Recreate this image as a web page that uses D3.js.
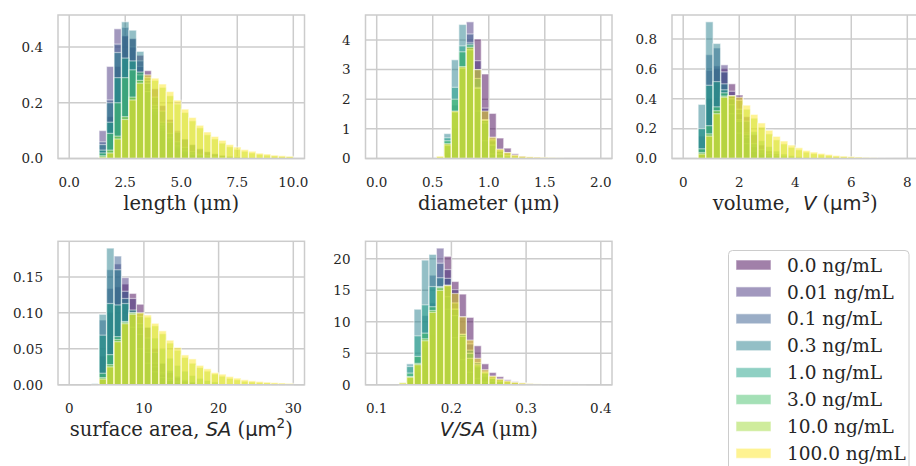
<!DOCTYPE html>
<html><head><meta charset="utf-8">
<script src="https://cdn.jsdelivr.net/npm/d3@7"></script>
<style>
html,body{margin:0;padding:0;background:#fff;overflow:hidden;}
svg{display:block;}
</style></head><body>
<svg id="fig" width="916" height="466"></svg>
<script>
// ATC concentrations, one histogram series per concentration
const concentrations = ["0.0", "0.01", "0.1", "0.3", "1.0", "3.0", "10.0", "100.0"];
const legendLabels = concentrations.map(c => c + " ng/mL");

// Shared bin specs: [first edge, last edge, number of bins]
const lengthBins = [0, 10, 30];
const diameterBins = [0, 2, 30];
const volumeBins = [0, 8, 30];
const areaBins = [0, 30, 30];
const ratioBins = [0.1, 0.4, 30];

// Cell length densities, per concentration
const lengthHist = [
  [0,0,0,0,0.03,0.15,0.33,0.44,0.43,0.37,0.315,0.25,0.19,0.14,0.10,0.07,0.05,0.035,0.024,0.016,0.011,0.007,0.005,0.003,0.002,0.001],
  [0,0,0,0,0.10,0.33,0.465,0.44,0.40,0.33,0.24,0.16,0.10,0.06,0.035,0.02,0.012,0.007,0.004,0.002,0.001],
  [0,0,0,0,0.06,0.21,0.41,0.47,0.43,0.35,0.25,0.17,0.11,0.07,0.04,0.025,0.015,0.01,0.006,0.003,0.002,0.001],
  [0,0,0,0,0.05,0.20,0.38,0.49,0.46,0.384,0.28,0.19,0.12,0.075,0.045,0.028,0.016,0.01,0.006,0.003,0.002,0.001],
  [0,0,0,0,0.03,0.13,0.29,0.36,0.35,0.30,0.24,0.18,0.13,0.09,0.06,0.04,0.025,0.015,0.01,0.006,0.004,0.002,0.001],
  [0,0,0,0,0.02,0.09,0.20,0.29,0.318,0.31,0.27,0.22,0.17,0.13,0.095,0.07,0.05,0.035,0.025,0.018,0.012,0.008,0.006,0.004,0.003,0.002,0.001],
  [0,0,0,0,0.01,0.03,0.08,0.15,0.22,0.28,0.29,0.28,0.255,0.225,0.195,0.165,0.135,0.11,0.085,0.07,0.055,0.042,0.033,0.026,0.02,0.015,0.012,0.009,0.007,0.006],
  [0,0,0,0,0.005,0.02,0.07,0.14,0.21,0.27,0.30,0.288,0.267,0.24,0.209,0.177,0.147,0.119,0.095,0.079,0.065,0.05,0.041,0.032,0.026,0.019,0.016,0.012,0.01,0.008]
];

// Cell diameter densities
const diameterHist = [
  [0,0,0,0,0,0,0,0,0,0.1,0.4,1.6,3.9,4.03,2.85,1.52,0.69,0.35,0.16,0.08,0.05,0.03,0.02],
  [0,0,0,0,0,0,0,0,0,0.2,1.0,3.0,4.61,3.3,1.7,0.7,0.25,0.1,0.05,0.02],
  [0,0,0,0,0,0,0,0,0,0.4,1.8,3.6,4.2,3.0,1.3,0.45,0.15,0.06,0.02],
  [0,0,0,0,0,0,0,0,0.02,0.84,3.33,4.52,3.9,1.6,0.6,0.15,0.04,0.01],
  [0,0,0,0,0,0,0,0,0.03,0.7,2.4,3.8,3.8,2.4,1.2,0.45,0.15,0.06,0.02],
  [0,0,0,0,0,0,0,0,0.04,0.6,2.0,3.6,3.85,2.7,1.3,0.6,0.25,0.1,0.04],
  [0,0,0,0,0,0,0,0,0.05,0.45,1.57,3.05,3.67,2.37,1.29,0.65,0.3,0.2,0.1,0.05,0.03],
  [0,0,0,0,0,0,0,0,0.08,0.5,1.6,3.1,3.75,3.0,1.6,0.72,0.32,0.2,0.12,0.08,0.06,0.05,0.04,0.03,0.02]
];

// Cell volume densities
const volumeHist = [
  [0,0,0.06,0.4,0.6,0.6,0.5,0.425,0.28,0.16,0.09,0.05,0.03,0.015,0.008],
  [0,0,0.15,0.59,0.62,0.627,0.45,0.3,0.17,0.09,0.05,0.025,0.012,0.006],
  [0,0,0.2,0.695,0.74,0.58,0.42,0.26,0.14,0.08,0.04,0.02,0.01],
  [0,0,0.362,0.915,0.77,0.5,0.3,0.17,0.1,0.05,0.03,0.015,0.008],
  [0,0,0.2,0.49,0.515,0.46,0.36,0.25,0.16,0.1,0.06,0.035,0.02,0.01],
  [0,0,0.065,0.22,0.346,0.44,0.4,0.33,0.25,0.18,0.12,0.08,0.05,0.03,0.02,0.012,0.008],
  [0,0,0.04,0.165,0.32,0.418,0.42,0.39,0.33,0.27,0.21,0.165,0.125,0.098,0.075,0.058,0.043,0.033,0.025,0.019,0.014,0.011,0.008,0.006,0.004,0.003],
  [0,0,0.03,0.15,0.3,0.41,0.42,0.41,0.357,0.295,0.238,0.189,0.148,0.117,0.09,0.072,0.054,0.043,0.034,0.027,0.02,0.016,0.013,0.01,0.007,0.005,0.003,0.002]
];

// Surface area densities
const areaHist = [
  [0,0,0,0,0.04,0.1,0.136,0.14,0.127,0.112,0.08,0.05,0.03,0.017,0.01,0.005,0.003],
  [0,0,0,0,0.07,0.134,0.168,0.149,0.12,0.08,0.05,0.03,0.017,0.009,0.005,0.002],
  [0,0,0,0.001,0.09,0.16,0.179,0.13,0.1,0.07,0.045,0.025,0.015,0.008,0.004],
  [0,0,0,0.002,0.098,0.19,0.16,0.12,0.08,0.05,0.03,0.018,0.01,0.006,0.003],
  [0,0,0,0,0.069,0.113,0.111,0.113,0.104,0.085,0.065,0.045,0.03,0.02,0.012,0.007,0.004],
  [0,0,0,0,0.016,0.042,0.067,0.088,0.1,0.095,0.08,0.065,0.05,0.037,0.027,0.019,0.013,0.009,0.006,0.004],
  [0,0,0,0.001,0.01,0.028,0.063,0.087,0.1,0.1,0.094,0.082,0.071,0.058,0.048,0.038,0.03,0.024,0.019,0.015,0.012,0.009,0.007,0.005,0.004,0.003,0.0025,0.002,0.0015,0.001],
  [0,0,0,0.001,0.008,0.025,0.06,0.085,0.098,0.1,0.097,0.0855,0.075,0.062,0.052,0.0415,0.036,0.027,0.0222,0.017,0.0148,0.0115,0.0093,0.007,0.0055,0.0046,0.0037,0.003,0.0025,0.002]
];

// Volume-to-surface-area ratio densities
const ratioHist = [
  [0,0,0,0,0.1,0.8,3,8,14,20.4,16.4,14.4,10.7,6.2,3.33,1.95,1.3,0.8,0.5,0.3,0.2,0.12,0.08],
  [0,0,0,0,0.5,2,6,13,21.7,18.3,15.1,10.8,6.5,3.5,1.5,0.6,0.3,0.1],
  [0,0,0,0,1,4.5,11,17.4,19.3,16.9,12,8,5,2.8,1.3,0.5,0.2],
  [0,0,0,0.2,3.33,12,19.8,20.7,17,12,7.5,4,2,1,0.4,0.15],
  [0,0,0,0.2,2.9,7.78,12.7,15.6,15.6,14,11,8,5.5,3.5,2,1,0.5,0.2],
  [0,0,0,0.2,1.86,4.5,8.2,12.4,15.5,15.8,12,8,5,3,1.8,1,0.6,0.3,0.15],
  [0,0,0,0.37,1.3,3.4,7.3,11.8,15.4,15.7,13,7.7,4.2,3.2,2,1.3,0.9,0.6,0.4,0.25,0.15,0.1],
  [0,0,0,0.3,1.2,3.2,7,11.5,15,15.8,14.5,10.8,7.1,4.2,2.4,1.4,0.9,0.6,0.4,0.3,0.2,0.15,0.1,0.08,0.06,0.05,0.04,0.03]
];

// Tick values
const lengthXTicks = [0, 2.5, 5, 7.5, 10], lengthYTicks = [0, 0.2, 0.4];
const diameterXTicks = [0, 0.5, 1, 1.5, 2], diameterYTicks = [0, 1, 2, 3, 4];
const volumeXTicks = [0, 2, 4, 6, 8], volumeYTicks = [0, 0.2, 0.4, 0.6, 0.8];
const areaXTicks = [0, 10, 20, 30], areaYTicks = [0, 0.05, 0.1, 0.15];
const ratioXTicks = [0.1, 0.2, 0.3, 0.4], ratioYTicks = [0, 5, 10, 15, 20];

const SERIF = "'DejaVu Serif', serif";
const SANS = "'DejaVu Sans', sans-serif";
const TEXT = "#262626", GRID = "#cccccc";
const colors = concentrations.map((c, i) => d3.interpolateViridis(i / (concentrations.length - 1)));

const svg = d3.select("#fig");
const AX_W = 246.5, AX_H = 143.5;
const colX = [58, 365.5, 672], rowY = [15, 241.3];

const panels = [
  {hist: lengthHist, bins: lengthBins, xt: lengthXTicks, yt: lengthYTicks, xf: d3.format(".1f"), yf: d3.format(".1f"), col: 0, row: 0,
   label: [["length (μm)", "serif"]]},
  {hist: diameterHist, bins: diameterBins, xt: diameterXTicks, yt: diameterYTicks, xf: d3.format(".1f"), yf: d3.format("d"), col: 1, row: 0,
   label: [["diameter (μm)", "serif"]]},
  {hist: volumeHist, bins: volumeBins, xt: volumeXTicks, yt: volumeYTicks, xf: d3.format("d"), yf: d3.format(".1f"), col: 2, row: 0,
   label: [["volume,  ", "serif"], ["V", "math"], [" (", "serif"], ["μm", "sans"], ["3", "sup"], [")", "serif"]]},
  {hist: areaHist, bins: areaBins, xt: areaXTicks, yt: areaYTicks, xf: d3.format("d"), yf: d3.format(".2f"), col: 0, row: 1,
   label: [["surface area, ", "serif"], ["SA", "math"], [" (", "serif"], ["μm", "sans"], ["2", "sup"], [")", "serif"]]},
  {hist: ratioHist, bins: ratioBins, xt: ratioXTicks, yt: ratioYTicks, xf: d3.format(".1f"), yf: d3.format("d"), col: 1, row: 1,
   label: [["V/SA", "math"], [" (μm)", "serif"]]}
];

function drawLabel(g, x, y, parts) {
  const t = g.append("text").attr("x", x).attr("y", y).attr("text-anchor", "middle")
    .style("white-space", "pre").attr("font-size", 19.5).attr("fill", TEXT);
  let raised = false;
  parts.forEach(([s, kind]) => {
    const ts = t.append("tspan").text(s);
    if (kind === "serif") ts.attr("font-family", SERIF);
    else if (kind === "math") ts.attr("font-family", SANS).attr("font-style", "italic");
    else if (kind === "sans") ts.attr("font-family", SANS);
    else if (kind === "sup") ts.attr("font-family", SANS).attr("font-size", 13.5).attr("dy", -8);
    if (raised && kind !== "sup") ts.attr("dy", 8);
    raised = kind === "sup";
  });
}

panels.forEach(p => {
  const x0 = colX[p.col], y0 = rowY[p.row];
  const [lo, hi, n] = p.bins;
  const pad = (hi - lo) * 0.05;
  const edges = d3.range(n + 1).map(i => lo + (hi - lo) * i / n);
  const yMax = d3.max(p.hist, s => d3.max(s)) * 1.05;
  const xs = d3.scaleLinear().domain([lo - pad, hi + pad]).range([x0, x0 + AX_W]);
  const ys = d3.scaleLinear().domain([0, yMax]).range([y0 + AX_H, y0]);
  const g = svg.append("g");

  // grid
  g.selectAll(".gx").data(p.xt).join("line")
    .attr("x1", d => xs(d)).attr("x2", d => xs(d)).attr("y1", y0).attr("y2", y0 + AX_H)
    .attr("stroke", GRID).attr("stroke-width", 1.5);
  g.selectAll(".gy").data(p.yt).join("line")
    .attr("x1", x0).attr("x2", x0 + AX_W).attr("y1", d => ys(d)).attr("y2", d => ys(d))
    .attr("stroke", GRID).attr("stroke-width", 1.5);

  // overlaid histograms, lowest concentration first
  p.hist.forEach((series, si) => {
    const bars = series.map((v, i) => ({v, i})).filter(d => d.v > 0);
    g.append("g").selectAll("rect").data(bars).join("rect")
      .attr("x", d => xs(edges[d.i]))
      .attr("width", d => xs(edges[d.i + 1]) - xs(edges[d.i]))
      .attr("y", d => ys(d.v))
      .attr("height", d => ys(0) - ys(d.v))
      .attr("fill", colors[si]).attr("fill-opacity", 0.5)
      .attr("stroke", "#fff").attr("stroke-opacity", 0.5).attr("stroke-width", 1.2);
  });

  // frame
  g.append("rect").attr("x", x0).attr("y", y0).attr("width", AX_W).attr("height", AX_H)
    .attr("fill", "none").attr("stroke", GRID).attr("stroke-width", 1.5);

  // tick labels
  g.selectAll(".tx").data(p.xt).join("text")
    .attr("x", d => xs(d)).attr("y", y0 + AX_H + 28)
    .attr("text-anchor", "middle").attr("font-family", SERIF).attr("font-size", 13.5).attr("fill", TEXT)
    .text(p.xf);
  g.selectAll(".ty").data(p.yt).join("text")
    .attr("x", x0 - 15).attr("y", d => ys(d)).attr("dy", "0.36em")
    .attr("text-anchor", "end").attr("font-family", SERIF).attr("font-size", 13.5).attr("fill", TEXT)
    .text(p.yf);

  drawLabel(g, x0 + AX_W / 2, y0 + AX_H + 51.5, p.label);
});

// legend
const lg = svg.append("g");
lg.append("rect").attr("x", 728.5).attr("y", 250.5).attr("width", 180.5).attr("height", 240)
  .attr("rx", 4).attr("fill", "#fff").attr("stroke", GRID).attr("stroke-width", 1);
const rowStep = 26.9, firstRow = 265;
legendLabels.forEach((lab, i) => {
  const cy = firstRow + i * rowStep;
  lg.append("rect").attr("x", 736).attr("y", cy - 5).attr("width", 35).attr("height", 10)
    .attr("fill", colors[i]).attr("fill-opacity", 0.5)
    .attr("stroke", "#fff").attr("stroke-opacity", 0.5).attr("stroke-width", 1.2);
  lg.append("text").attr("x", 787).attr("y", cy).attr("dy", "0.36em")
    .attr("font-family", SERIF).attr("font-size", 18.5).attr("fill", TEXT).text(lab);
});
</script>
</body></html>
